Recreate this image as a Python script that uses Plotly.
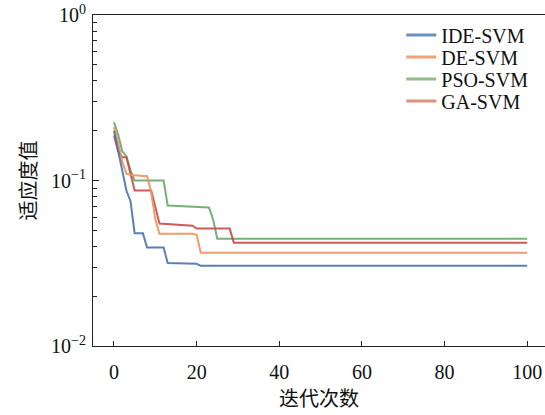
import plotly.graph_objects as go

# Data (iteration, fitness value)
ide_iter = [0, 1, 2, 3, 4, 5, 7, 8, 12, 13, 20, 21, 100]
ide_val = [0.20, 0.15, 0.11, 0.087, 0.075, 0.048, 0.048, 0.0394, 0.0394, 0.0317, 0.0314, 0.0305, 0.0305]

de_iter = [0, 1, 2, 3, 4, 8, 9, 10, 11, 19, 20, 21, 100]
de_val = [0.21, 0.17, 0.13, 0.11, 0.108, 0.106, 0.085, 0.058, 0.0477, 0.0477, 0.047, 0.0366, 0.0366]

pso_iter = [0, 1, 2, 3, 4, 5, 12, 13, 23, 24, 25, 100]
pso_val = [0.225, 0.19, 0.15, 0.14, 0.115, 0.1, 0.1, 0.0705, 0.0686, 0.058, 0.0445, 0.0445]

ga_iter = [0, 1, 2, 3, 4, 5, 9, 10, 11, 19, 20, 28, 29, 100]
ga_val = [0.187, 0.15, 0.138, 0.138, 0.11, 0.087, 0.087, 0.07, 0.0549, 0.0533, 0.0512, 0.0512, 0.042, 0.042]

names = ["IDE-SVM", "DE-SVM", "PSO-SVM", "GA-SVM"]
line_colors = ["#4a73b0", "#f0925a", "#6aa86a", "#c84a48"]
legend_colors = ["#6a8fc2", "#f2a275", "#93bc8a", "#e0917e"]

y_tickvals = [0.01, 0.1, 1]
y_ticktext = ["10<sup>\u22122</sup>", "10<sup>\u22121</sup>", "10<sup>0</sup>"]
y_minor = [m * 10.0 ** e for e in (-2, -1) for m in range(2, 10)]
x_tickvals = [0, 20, 40, 60, 80, 100]

series = [(ide_iter, ide_val), (de_iter, de_val), (pso_iter, pso_val), (ga_iter, ga_val)]

fig = go.Figure()
for i in [2, 3, 1, 0]:
    xs, ys = series[i]
    fig.add_trace(go.Scatter(x=xs, y=ys, mode="lines", name=names[i],
                             line=dict(color=line_colors[i], width=2),
                             opacity=0.9, showlegend=False))

serif = "Liberation Serif, Times New Roman, serif"
cjk = "Noto Sans CJK SC"

legend_ids = ["legend", "legend2", "legend3", "legend4"]
legend_rows_y = [0.9396, 0.873, 0.8066, 0.740]
for i in range(4):
    fig.add_trace(go.Scatter(x=[None], y=[None], mode="lines", name=names[i],
                             line=dict(color=legend_colors[i], width=3),
                             legend=legend_ids[i]))

legend_layout = {}
for i in range(4):
    legend_layout[legend_ids[i]] = dict(
        x=0.682, y=legend_rows_y[i], xanchor="left", yanchor="middle",
        font=dict(family=serif, size=20, color="#111"),
        bgcolor="rgba(0,0,0,0)")

fig.update_layout(
    width=545, height=415,
    margin=dict(l=93, r=0, t=15, b=69, autoexpand=False),
    paper_bgcolor="white", plot_bgcolor="white",
    showlegend=True,
    **legend_layout,
    xaxis=dict(range=[-5.08, 104.3], tickvals=x_tickvals, ticks="inside", ticklen=5,
               tickcolor="#222", showline=True, linecolor="#222", linewidth=1.2,
               mirror=True,
               showgrid=False, zeroline=False, automargin=False,
               ticklabelstandoff=8,
               tickfont=dict(family=serif, size=20, color="#111"),
               title=dict(text="迭代次数", font=dict(family=cjk, size=20, color="#111"), standoff=8)),
    yaxis=dict(type="log", range=[-2, 0], tickvals=y_tickvals, ticktext=y_ticktext,
               ticks="inside", ticklen=6, tickcolor="#222",
               minor=dict(tickmode="array", tickvals=y_minor, ticks="inside", ticklen=4,
                          tickcolor="#222", showgrid=False),
               showline=True, linecolor="#222", linewidth=1.2,
               showgrid=False, zeroline=False, automargin=False,
               ticklabelstandoff=2,
               tickfont=dict(family=serif, size=20, color="#111"),
               title=dict(text="适应度值", font=dict(family=cjk, size=20, color="#111"), standoff=8)),
)

fig.write_html("out.html", config={"displayModeBar": False},
               post_script="document.body.style.margin='0px';")
